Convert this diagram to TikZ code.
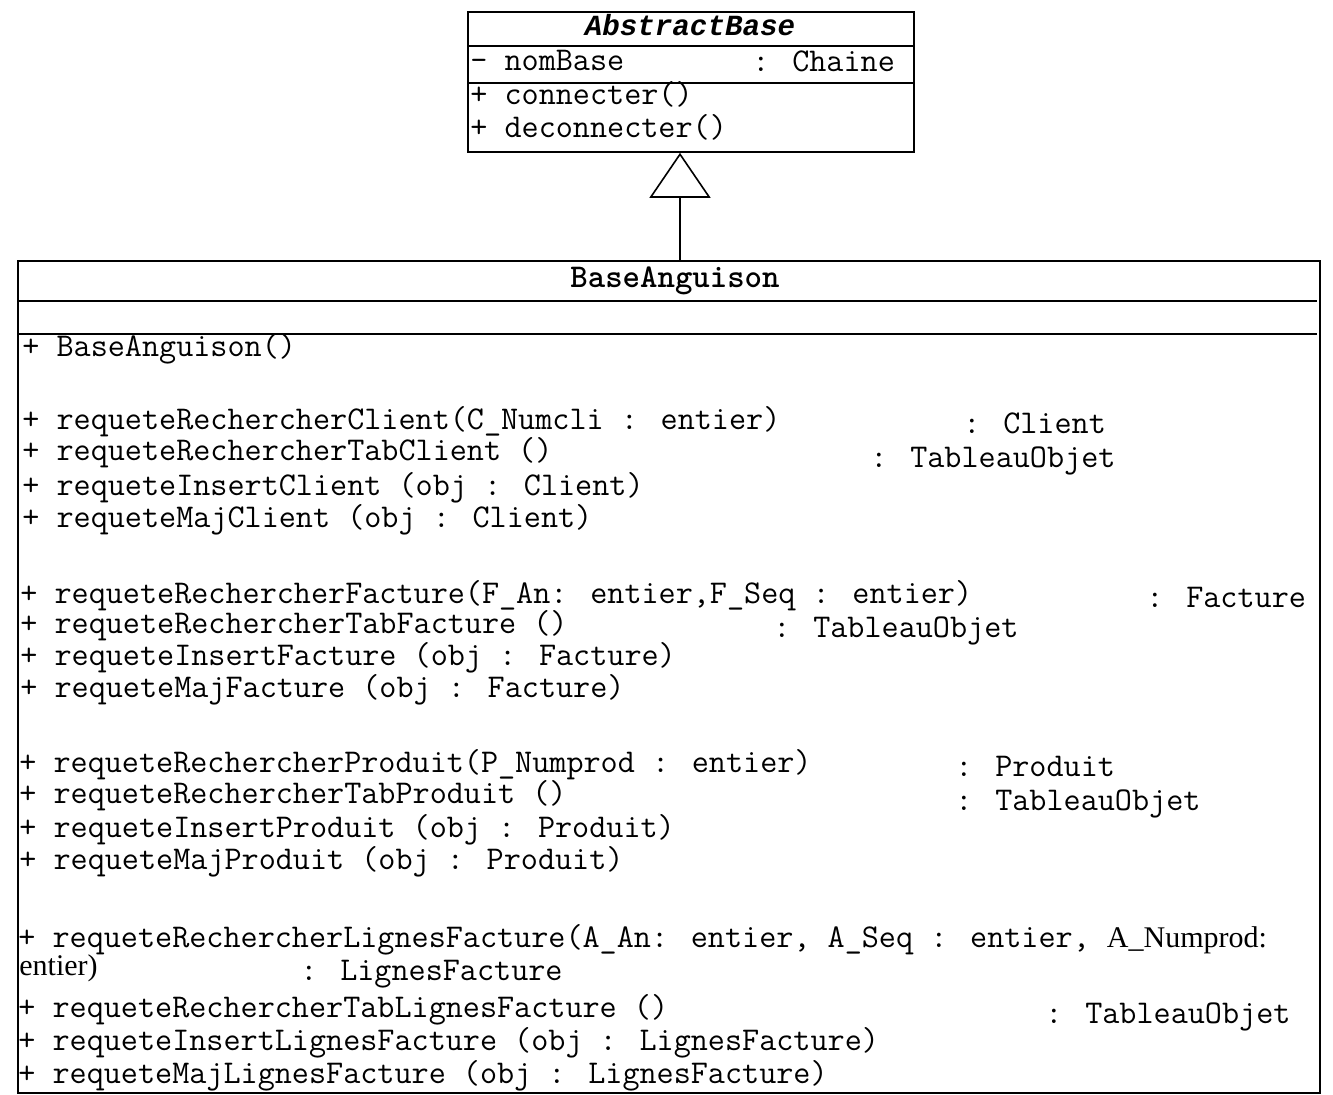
\documentclass[tikz,border=0pt]{standalone}
\usepackage{fontspec}
\setmainfont{Liberation Serif}
\newfontfamily\titlefont{Liberation Mono}
\usetikzlibrary{arrows.meta}

\begin{document}
\begin{tikzpicture}[
    x=0.5pt, y=-0.5pt,
    classbox/.style={draw, line width=0.9pt, inner sep=0pt, anchor=north west},
    divider/.style={line width=0.6pt},
    member/.style={font=\ttfamily\fontsize{16.6}{19}\selectfont, anchor=west, inner sep=0pt, text height=10pt, text depth=3pt},
    classtitle/.style={member, anchor=center},
    serifmember/.style={member, font=\rmfamily\fontsize{15}{17}\selectfont},
    inherit/.style={-{Triangle[open, length=22.5pt, width=30.5pt]}, line width=0.8pt}
]
\useasboundingbox (0,0) rectangle (1333,1094);

% AbstractBase
\node[classbox, minimum width=223pt, minimum height=70pt] (abstract) at (467,11) {};
\draw[divider] (467,46) -- (913,46);
\draw[divider] (467,83) -- (913,83);
\node[classtitle, font=\titlefont\bfseries\itshape\fontsize{14.6}{17}\selectfont] (abTitle) at (690,28) {AbstractBase};
\node[member] (abAttr) at (470,63) {- nomBase};
\node[member] (abAttrType) at (752,64) {: Chaine};
\node[member] (abOpA) at (470,97) {+ connecter()};
\node[member] (abOpB) at (470,130) {+ deconnecter()};

% BaseAnguison
\node[classbox, minimum width=651pt, minimum height=416pt] (base) at (17,260) {};
\draw[divider] (17,301) -- (1317,301);
\draw[divider] (17,334) -- (1317,334);
\node[classtitle, font=\ttfamily\bfseries\fontsize{16.6}{19}\selectfont] (baTitle) at (675,280) {BaseAnguison};
\node[member] (baCtor) at (22,349) {+ BaseAnguison()};

% heritage
\coordinate (arrowx) at (680,0);
\draw[inherit] (arrowx |- base.north) -- (arrowx |- abstract.south);

% Client
\node[member] (cliA) at (22,422) {+ requeteRechercherClient(C\_Numcli : entier)};
\node[member] (cliAret) at (963,426) {: Client};
\node[member] (cliB) at (22,453) {+ requeteRechercherTabClient ()};
\node[member] (cliBret) at (870,460) {: TableauObjet};
\node[member] (cliC) at (22,488) {+ requeteInsertClient (obj : Client)};
\node[member] (cliD) at (22,520) {+ requeteMajClient (obj : Client)};

% Facture
\node[member] (facA) at (20,596) {+ requeteRechercherFacture(F\_An: entier,F\_Seq : entier)};
\node[member] (facAret) at (1146,600) {: Facture};
\node[member] (facB) at (20,626) {+ requeteRechercherTabFacture ()};
\node[member] (facBret) at (773,630) {: TableauObjet};
\node[member] (facC) at (20,658) {+ requeteInsertFacture (obj : Facture)};
\node[member] (facD) at (20,690) {+ requeteMajFacture (obj : Facture)};

% Produit
\node[member] (prodA) at (19,765) {+ requeteRechercherProduit(P\_Numprod : entier)};
\node[member] (prodAret) at (955,769) {: Produit};
\node[member] (prodB) at (19,796) {+ requeteRechercherTabProduit ()};
\node[member] (prodBret) at (955,803) {: TableauObjet};
\node[member] (prodC) at (19,830) {+ requeteInsertProduit (obj : Produit)};
\node[member] (prodD) at (19,862) {+ requeteMajProduit (obj : Produit)};

% LignesFacture
\node[member] (ligA) at (18,940) {+ requeteRechercherLignesFacture(A\_An: entier, A\_Seq : entier, {\rmfamily\fontsize{15}{17}\selectfont A\_Numprod:}};
\node[serifmember] (ligAsuite) at (19,968) {entier)};
\node[member] (ligAret) at (300,973) {: LignesFacture};
\node[member] (ligB) at (18,1010) {+ requeteRechercherTabLignesFacture ()};
\node[member] (ligBret) at (1045,1016) {: TableauObjet};
\node[member] (ligC) at (18,1043) {+ requeteInsertLignesFacture (obj : LignesFacture)};
\node[member] (ligD) at (18,1076) {+ requeteMajLignesFacture (obj : LignesFacture)};

\end{tikzpicture}
\end{document}
